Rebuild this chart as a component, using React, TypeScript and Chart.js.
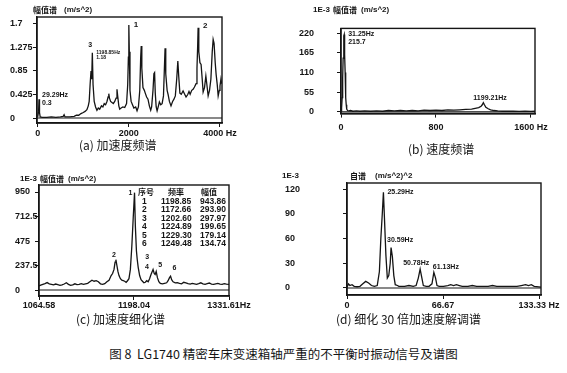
import React, { useEffect, useRef } from 'react';
import { Chart, registerables } from 'chart.js';

Chart.register(...registerables);

// ---------- (a) 加速度频谱 ----------
const aFreq = [0, 20, 29, 40, 55, 100, 200, 300, 400, 500, 560, 580, 600, 700, 800, 850, 900, 950, 1000, 1040, 1080, 1110, 1130, 1150, 1170, 1185, 1199, 1215, 1240, 1270, 1300, 1330, 1360, 1400, 1430, 1460, 1490, 1520, 1545, 1560, 1575, 1600, 1630, 1660, 1690, 1720, 1740, 1755, 1780, 1800, 1830, 1870, 1910, 1950, 1975, 1990, 2000, 2010, 2025, 2050, 2080, 2110, 2150, 2180, 2210, 2240, 2260, 2272, 2285, 2310, 2340, 2360, 2390, 2420, 2450, 2480, 2500, 2530, 2550, 2565, 2580, 2600, 2620, 2650, 2670, 2700, 2730, 2760, 2780, 2795, 2810, 2840, 2860, 2890, 2925, 2960, 2990, 3020, 3050, 3075, 3095, 3120, 3150, 3190, 3220, 3255, 3290, 3320, 3345, 3380, 3410, 3440, 3475, 3495, 3510, 3520, 3535, 3560, 3585, 3610, 3630, 3660, 3690, 3710, 3740, 3770, 3800, 3830, 3850, 3870, 3895, 3915, 3940, 3960, 3985, 4000, 4020, 4035];
const aAmp = [0.02, 0.12, 0.34, 0.1, 0.02, 0.01, 0.01, 0.02, 0.01, 0.02, 0.03, 0.06, 0.02, 0.02, 0.03, 0.05, 0.05, 0.08, 0.1, 0.12, 0.15, 0.22, 0.3, 0.6, 0.85, 0.7, 1.18, 0.6, 0.3, 0.2, 0.14, 0.18, 0.16, 0.22, 0.2, 0.26, 0.24, 0.3, 0.38, 0.44, 0.36, 0.3, 0.28, 0.26, 0.3, 0.36, 0.52, 0.4, 0.22, 0.16, 0.18, 0.2, 0.19, 0.26, 0.6, 1.1, 1.68, 1.2, 0.5, 0.3, 0.24, 0.18, 0.2, 0.13, 0.2, 0.5, 1.1, 1.3, 0.9, 0.55, 0.5, 0.45, 0.38, 0.34, 0.22, 0.14, 0.2, 0.5, 0.8, 0.82, 0.45, 0.2, 0.13, 0.22, 0.29, 0.24, 0.26, 0.4, 0.9, 1.26, 0.8, 0.5, 0.43, 0.3, 0.22, 0.3, 0.34, 0.4, 0.7, 1.03, 0.75, 0.45, 0.43, 0.49, 0.44, 0.38, 0.42, 0.48, 0.43, 0.5, 0.52, 0.56, 0.62, 0.9, 1.3, 1.63, 1.2, 1.0, 0.97, 0.7, 0.47, 0.55, 0.76, 0.62, 0.4, 0.5, 0.7, 1.2, 1.42, 1.35, 1.0, 0.79, 0.6, 0.4, 0.5, 0.58, 0.7, 0.62];
const aXTicks = [0, 2000, 4000];
const aYTicks = [0, 0.425, 0.85, 1.275, 1.7];

// ---------- (b) 速度频谱 ----------
const bFreq = [0, 5, 10, 14, 18, 22, 25, 27, 29, 32, 35, 38, 41, 44, 48, 55, 65, 80, 100, 130, 160, 200, 250, 300, 350, 400, 450, 500, 550, 600, 650, 700, 750, 800, 850, 900, 950, 1000, 1050, 1100, 1130, 1160, 1180, 1190, 1199, 1208, 1220, 1240, 1260, 1290, 1320, 1360, 1400, 1450, 1500, 1550, 1600, 1634];
const bAmp = [3, 12, 40, 95, 150, 200, 212, 215.7, 205, 160, 110, 70, 40, 20, 8, 4, 3, 4, 2, 3, 2, 3, 2, 3, 2, 4, 3, 4, 3, 4, 3, 5, 4, 5, 4, 6, 5, 6, 7, 8, 10, 12, 16, 20, 26, 20, 13, 9, 6, 4, 3, 2, 2, 2, 1.5, 2, 1.5, 2];
const bXTicks = [0, 800, 1600];
const bYTicks = [0, 55, 110, 165, 220];

// ---------- (c) 加速度细化谱 ----------
const cFreq = [1064.58, 1067, 1070, 1073, 1076, 1079, 1082, 1085, 1088, 1091, 1094, 1097, 1100, 1103, 1106, 1109, 1112, 1115, 1118, 1121, 1124, 1127, 1130, 1133, 1136, 1139, 1142, 1145, 1148, 1151, 1154, 1157, 1160, 1163, 1166, 1168, 1170, 1171.5, 1172.66, 1174, 1175.5, 1177, 1179, 1181, 1183, 1185, 1187, 1189, 1191, 1193, 1195, 1197, 1198.85, 1200, 1201.5, 1202.6, 1204, 1206, 1208, 1210, 1212, 1214, 1216, 1218, 1220, 1222, 1224.89, 1226.5, 1227.8, 1229.3, 1231, 1233, 1235, 1238, 1241, 1244, 1246, 1248, 1249.48, 1251, 1253, 1256, 1259, 1262, 1265, 1268, 1271, 1274, 1277, 1280, 1283, 1286, 1289, 1292, 1295, 1298, 1301, 1304, 1307, 1310, 1313, 1316, 1319, 1322, 1325, 1328, 1331.61];
const cAmp = [40, 48, 55, 62, 72, 60, 55, 50, 58, 52, 45, 50, 58, 70, 55, 45, 50, 60, 52, 55, 62, 55, 60, 65, 80, 95, 85, 90, 80, 60, 55, 62, 80, 95, 140, 160, 200, 270, 293.9, 240, 180, 140, 110, 95, 90, 85, 75, 90, 110, 200, 420, 700, 943.86, 620, 380, 297.97, 220, 140, 100, 85, 70, 75, 90, 80, 110, 150, 199.65, 160, 150, 179.14, 120, 80, 65, 60, 65, 70, 90, 120, 134.74, 100, 80, 70, 72, 65, 60, 75, 70, 62, 58, 65, 60, 55, 62, 70, 60, 55, 62, 68, 58, 55, 60, 64, 58, 55, 62, 58, 55];
const cXTicks = [1064.58, 1198.04, 1331.61];
const cYTicks = [0, 237.5, 475, 712.5, 950];
const cPeakNo = ['1', '2', '3', '4', '5', '6'];
const cPeakFreq = [1198.85, 1172.66, 1202.6, 1224.89, 1229.3, 1249.48];
const cPeakAmp = [943.86, 293.9, 297.97, 199.65, 179.14, 134.74];

// ---------- (d) 细化 30 倍加速度解调谱 ----------
const dFreq = [0, 1, 2, 3.5, 5, 7, 9, 11, 13, 15, 17, 19, 21, 22.5, 23.5, 24.5, 25.29, 26, 27, 28, 29, 30, 30.59, 31.5, 32.5, 33.5, 35, 36, 38, 40, 43, 46, 48, 49.5, 50.78, 52, 53, 55, 57, 59, 60.3, 61.5, 62.5, 64, 67, 70, 72, 74, 76, 78, 80, 84, 87, 90, 94, 98, 101, 104, 108, 113, 118, 121, 124, 126, 128, 130, 134.7];
const dAmp = [1, 5, 3, 4, 2, 1.5, 2, 5, 8, 6, 3, 2, 3, 20, 60, 90, 116, 85, 40, 12, 15, 30, 49, 38, 15, 4, 3, 2, 2, 2, 3, 2, 3, 12, 23, 12, 3, 2, 2, 5, 19, 12, 3, 2, 2, 3, 4, 3, 4, 3, 2, 2, 3, 2, 2, 2, 3, 2, 2, 2, 2, 3, 4, 3, 4, 2, 1];
const dXTicks = [0, 66.67, 133.33];
const dYTicks = [0, 30, 60, 90, 120];

const INK = '#151515';
const NUM_FONT = '"Liberation Sans", Arial, sans-serif';
const CJK_FONT = '"Noto Sans CJK SC", "Noto Sans", sans-serif';

type Lbl = { text: string; x: number; y: number; dx: number; dy: number; size: number };

const framePlugin = {
  id: 'frame',
  afterDatasetsDraw(chart: any, _args: any, opts: any) {
    const { ctx, chartArea: ca, scales } = chart;
    ctx.save();
    ctx.strokeStyle = INK;
    ctx.lineWidth = 1.4;
    ctx.strokeRect(ca.left, ca.top, ca.right - ca.left, ca.bottom - ca.top);
    const y0 = scales.y.getPixelForValue(0);
    ctx.lineWidth = 1.2;
    ctx.beginPath();
    ctx.moveTo(ca.left, y0);
    ctx.lineTo(ca.right, y0);
    ctx.stroke();
    ctx.fillStyle = INK;
    ctx.textBaseline = 'alphabetic';
    ctx.textAlign = 'left';
    for (const l of (opts.labels || []) as Lbl[]) {
      ctx.font = `bold ${l.size}px ${NUM_FONT}`;
      ctx.fillText(l.text, scales.x.getPixelForValue(l.x) + l.dx, scales.y.getPixelForValue(l.y) + l.dy);
    }
    ctx.restore();
  },
};

type Spec = {
  left: number; top: number; w: number; h: number;
  freq: number[]; amp: number[];
  xTicks: number[]; yTicks: number[];
  xMin: number; xMax: number; yMin: number; yMax: number;
  padL: number; padT: number; padR: number; yW: number; xH: number;
  yAlign: 'near' | 'far'; yPad: number; xPad: number; unit: string;
  labels: Lbl[];
};

function makeConfig(p: Spec): any {
  const tickFont = { family: NUM_FONT, size: 9, weight: 'bold' as const };
  return {
    type: 'line',
    data: {
      datasets: [{
        data: p.freq.map((f, i) => ({ x: f, y: p.amp[i] })),
        borderColor: INK,
        borderWidth: 1.3,
        pointRadius: 0,
        tension: 0,
        fill: false,
      }],
    },
    options: {
      animation: false,
      responsive: false,
      devicePixelRatio: 1,
      events: [],
      layout: { padding: { left: p.padL, top: p.padT, right: p.padR, bottom: 0 } },
      plugins: { legend: { display: false }, tooltip: { enabled: false }, frame: { labels: p.labels } },
      scales: {
        x: {
          type: 'linear', min: p.xMin, max: p.xMax,
          afterBuildTicks: (s: any) => { s.ticks = p.xTicks.map((v) => ({ value: v })); },
          afterFit: (s: any) => { s.height = p.xH; },
          grid: { display: true, drawOnChartArea: false, drawTicks: true, tickLength: 4, color: INK },
          border: { display: true, color: INK, width: 1.4 },
          ticks: {
            autoSkip: false, maxRotation: 0, padding: p.xPad, color: INK, font: tickFont,
            callback: (v: any, i: number, t: any[]) => String(v) + (i === t.length - 1 ? p.unit : ''),
          },
        },
        y: {
          type: 'linear', min: p.yMin, max: p.yMax,
          afterBuildTicks: (s: any) => { s.ticks = p.yTicks.map((v) => ({ value: v })); },
          afterFit: (s: any) => { s.width = p.yW; },
          grid: { display: true, drawOnChartArea: false, drawTicks: true, tickLength: 4, color: INK },
          border: { display: true, color: INK, width: 1.4 },
          ticks: {
            autoSkip: false, padding: p.yPad, color: INK, font: tickFont, crossAlign: p.yAlign,
            callback: (v: any) => String(v),
          },
        },
      },
    },
    plugins: [framePlugin],
  };
}

const specs: Spec[] = [
  {
    left: 0, top: 0, w: 250, h: 142, freq: aFreq, amp: aAmp, xTicks: aXTicks, yTicks: aYTicks,
    xMin: -15, xMax: 4044, yMin: -0.09, yMax: 1.826,
    padL: 10, padT: 17, padR: 28, yW: 27, xH: 19, yAlign: 'far', yPad: 2, xPad: 1, unit: ' Hz',
    labels: [
      { text: '1', x: 2000, y: 1.68, dx: 5, dy: 1.5, size: 8 },
      { text: '2', x: 3520, y: 1.63, dx: 5, dy: 0, size: 8 },
      { text: '3', x: 1199, y: 1.18, dx: -4, dy: -6, size: 7 },
      { text: '1198.85Hz', x: 1199, y: 1.18, dx: 4, dy: 1, size: 5 },
      { text: '1.18', x: 1199, y: 1.18, dx: 4, dy: 6, size: 5 },
      { text: '29.29Hz', x: 29, y: 0.34, dx: 3, dy: -2, size: 7 },
      { text: '0.3', x: 29, y: 0.34, dx: 3, dy: 6, size: 7 },
    ],
  },
  {
    left: 280, top: 0, w: 287, h: 142, freq: bFreq, amp: bAmp, xTicks: bXTicks, yTicks: bYTicks,
    xMin: 0, xMax: 1634, yMin: -4.6, yMax: 233,
    padL: 0, padT: 17, padR: 32, yW: 61, xH: 21, yAlign: 'near', yPad: 23, xPad: 5, unit: ' Hz',
    labels: [
      { text: '31.25Hz', x: 27, y: 215.7, dx: 4, dy: 1, size: 7 },
      { text: '215.7', x: 27, y: 215.7, dx: 4, dy: 9, size: 7 },
      { text: '1199.21Hz', x: 1199, y: 26, dx: -10, dy: -3, size: 7 },
    ],
  },
  {
    left: 0, top: 150, w: 280, h: 162, freq: cFreq, amp: cAmp, xTicks: cXTicks, yTicks: cYTicks,
    xMin: 1064.58, xMax: 1331.61, yMin: -58, yMax: 1018,
    padL: 15, padT: 35, padR: 51, yW: 24, xH: 16, yAlign: 'far', yPad: 2, xPad: 0, unit: 'Hz',
    labels: [
      { text: cPeakNo[0], x: cPeakFreq[0], y: cPeakAmp[0], dx: -6, dy: 2, size: 7 },
      { text: cPeakNo[1], x: cPeakFreq[1], y: cPeakAmp[1], dx: -4, dy: -3, size: 7 },
      { text: cPeakNo[2], x: cPeakFreq[2], y: cPeakAmp[2], dx: 8, dy: 0, size: 7 },
      { text: cPeakNo[3], x: cPeakFreq[3], y: cPeakAmp[3], dx: -8, dy: 0, size: 7 },
      { text: cPeakNo[4], x: cPeakFreq[4], y: cPeakAmp[4], dx: 2, dy: -5, size: 7 },
      { text: cPeakNo[5], x: cPeakFreq[5], y: cPeakAmp[5], dx: 2, dy: -6, size: 7 },
    ],
  },
  {
    left: 280, top: 150, w: 287, h: 162, freq: dFreq, amp: dAmp, xTicks: dXTicks, yTicks: dYTicks,
    xMin: 0, xMax: 134.7, yMin: -8.5, yMax: 127.3,
    padL: 5, padT: 33, padR: 26, yW: 62, xH: 17, yAlign: 'far', yPad: 2, xPad: 1, unit: ' Hz',
    labels: [
      { text: '25.29Hz', x: 25.29, y: 116, dx: 4, dy: 2, size: 7 },
      { text: '30.59Hz', x: 30.59, y: 49, dx: -4, dy: -6, size: 7 },
      { text: '50.78Hz', x: 50.78, y: 23, dx: -17, dy: -4, size: 7 },
      { text: '61.13Hz', x: 60.3, y: 19, dx: -1, dy: -3, size: 7 },
    ],
  },
];

function Panel({ spec }: { spec: Spec }) {
  const ref = useRef<HTMLCanvasElement | null>(null);
  useEffect(() => {
    const chart = new Chart(ref.current as HTMLCanvasElement, makeConfig(spec));
    return () => chart.destroy();
  }, []);
  return (
    <canvas
      ref={ref}
      width={spec.w}
      height={spec.h}
      style={{ position: 'absolute', left: spec.left, top: spec.top, width: spec.w, height: spec.h }}
    />
  );
}

const abs = (left: number, top: number, extra: React.CSSProperties = {}): React.CSSProperties => ({
  position: 'absolute', left, top, whiteSpace: 'nowrap', color: INK, lineHeight: '10px', ...extra,
});

const numSmall: React.CSSProperties = { fontFamily: NUM_FONT, fontSize: 8, fontWeight: 700 };
const cjkSmall: React.CSSProperties = { fontFamily: CJK_FONT, fontSize: 8, fontWeight: 700 };
const caption: React.CSSProperties = { fontFamily: CJK_FONT, fontSize: 12, lineHeight: '14px' };

export default function App() {
  return (
    <div style={{ position: 'absolute', left: 0, top: 0, width: 567, height: 373, background: '#fff', overflow: 'hidden' }}>
      {specs.map((s, i) => <Panel key={i} spec={s} />)}

      {/* axis titles */}
      <div style={abs(33, 5, cjkSmall)}>幅值谱</div>
      <div style={abs(64, 5, numSmall)}>(m/s^2)</div>

      <div style={abs(313, 5, numSmall)}>1E-3</div>
      <div style={abs(333, 5, cjkSmall)}>幅值谱</div>
      <div style={abs(361, 5, numSmall)}>(m/s^2)</div>

      <div style={abs(20, 174, numSmall)}>1E-3</div>
      <div style={abs(40, 174, cjkSmall)}>幅值谱</div>
      <div style={abs(68, 174, numSmall)}>(m/s^2)</div>

      <div style={abs(282, 171, numSmall)}>1E-3</div>
      <div style={abs(350, 171, cjkSmall)}>自谱</div>
      <div style={abs(375, 171, numSmall)}>(m/s^2)^2</div>

      {/* peak table in (c) */}
      <div style={abs(138, 188, { lineHeight: 1 })}>
        <div style={{ position: 'relative', height: 9 }}>
          <span style={{ ...cjkSmall, position: 'absolute', left: 0 }}>序号</span>
          <span style={{ ...cjkSmall, position: 'absolute', left: 30 }}>频率</span>
          <span style={{ ...cjkSmall, position: 'absolute', left: 63 }}>幅值</span>
        </div>
        {cPeakNo.map((n, i) => (
          <div key={n} style={{ position: 'relative', height: 8.4, fontFamily: NUM_FONT, fontWeight: 700, fontSize: 8.5 }}>
            <span style={{ position: 'absolute', left: 4 }}>{n}</span>
            <span style={{ position: 'absolute', left: 23 }}>{cPeakFreq[i].toFixed(2)}</span>
            <span style={{ position: 'absolute', left: 62 }}>{cPeakAmp[i].toFixed(2)}</span>
          </div>
        ))}
      </div>

      {/* sub captions */}
      <div style={abs(79, 138, caption)}>(a) 加速度频谱</div>
      <div style={abs(408, 142, caption)}>(b) 速度频谱</div>
      <div style={abs(76, 312, caption)}>(c) 加速度细化谱</div>
      <div style={abs(336, 312, caption)}>(d) 细化 30 倍加速度解调谱</div>

      {/* figure caption */}
      <div style={abs(0, 347, { ...caption, width: 567, textAlign: 'center', fontSize: 12.5 })}>
        图 8&nbsp;&nbsp;LG1740 精密车床变速箱轴严重的不平衡时振动信号及谱图
      </div>
    </div>
  );
}
